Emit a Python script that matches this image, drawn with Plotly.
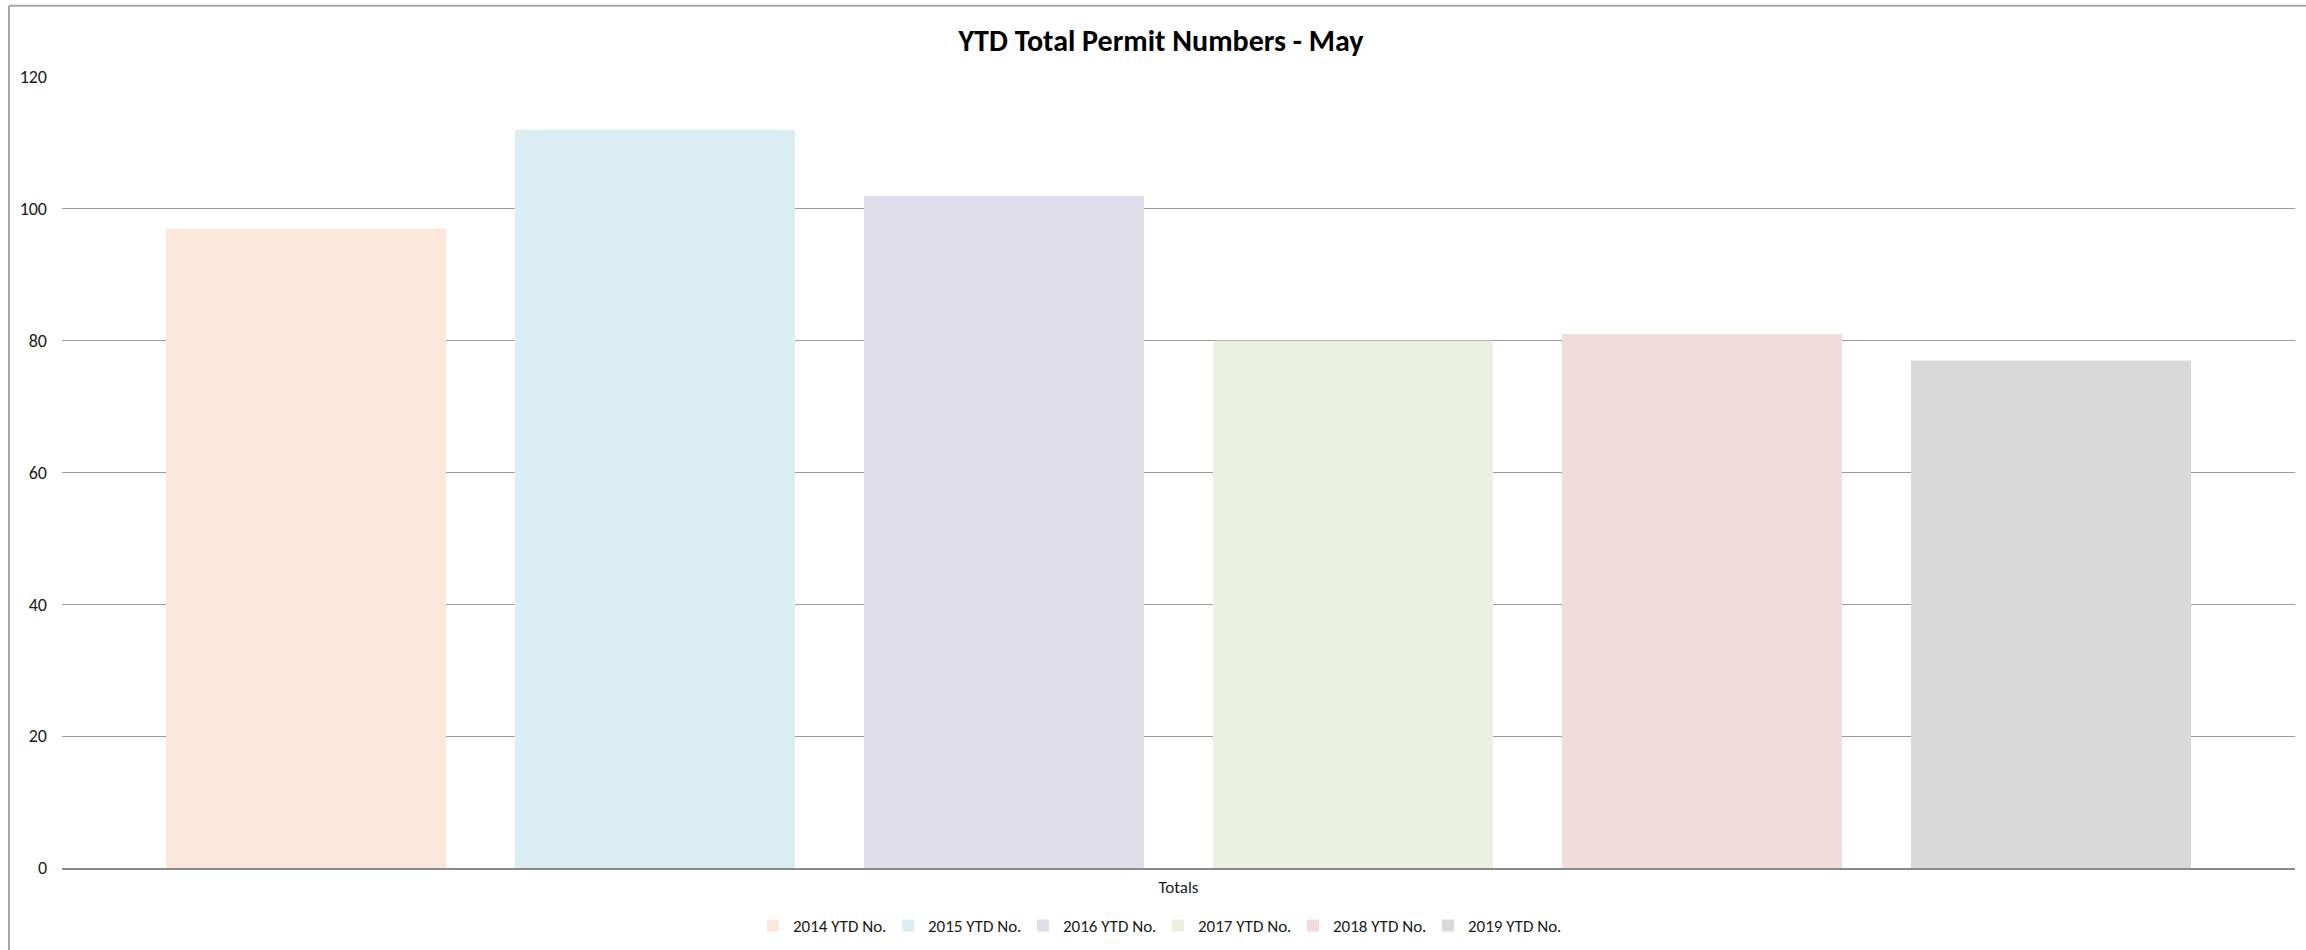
import plotly.graph_objects as go

# ---- data ----
categories = ["Totals"]
series_names = ["2014 YTD No.", "2015 YTD No.", "2016 YTD No.", "2017 YTD No.", "2018 YTD No.", "2019 YTD No."]
values_2014 = [97]
values_2015 = [112]
values_2016 = [102]
values_2017 = [80]
values_2018 = [81]
values_2019 = [77]
series_values = [values_2014, values_2015, values_2016, values_2017, values_2018, values_2019]
colors = ["#FBE7D9", "#DAEDF3", "#E1DEEC", "#EBF0DE", "#F1DBDB", "#D9D9D9"]
y_ticks = [0, 20, 40, 60, 80, 100, 120]

FONT = "Carlito, Lato, 'Open Sans', sans-serif"

W, H = 2306, 950
L, R, T, B = 62, 11, 77, 82

fig = go.Figure()
for name, vals, col in zip(series_names, series_values, colors):
    fig.add_trace(go.Bar(x=categories, y=vals, name=name,
                         marker=dict(color=col, line=dict(width=0))))

fig.update_layout(
    width=W, height=H,
    margin=dict(l=L, r=R, t=T, b=B, pad=0, autoexpand=False),
    paper_bgcolor="white", plot_bgcolor="white",
    barmode="group", bargap=0.0622, bargroupgap=0.1977,
    font=dict(family=FONT, size=17, color="#1a1a1a"),
    title=dict(text="<b>YTD Total Permit Numbers - May</b>",
               x=1161 / W, xref="container", xanchor="center",
               y=1 - 40 / H, yref="container", yanchor="middle",
               font=dict(family=FONT, size=30, color="#000000")),
    showlegend=True,
    legend=dict(orientation="h", x=1158 / W, xref="container", xanchor="center",
                y=1 - 926 / H, yref="container", yanchor="middle",
                font=dict(family=FONT, size=17, color="#1a1a1a"),
                entrywidth=90, traceorder="normal", bgcolor="rgba(0,0,0,0)"),
    xaxis=dict(showgrid=False, showline=True, linecolor="#8a8a8a", linewidth=1.5,
               ticks="", ticklabelstandoff=3, automargin=False,
               tickfont=dict(size=17, color="#1a1a1a"), fixedrange=True),
    yaxis=dict(range=[0, 120], tickvals=y_ticks, showgrid=True, gridcolor="#9c9c9c",
               gridwidth=1.3, zeroline=False, showline=False, ticks="",
               ticklabelstandoff=14, automargin=False,
               tickfont=dict(size=18, color="#1a1a1a"), fixedrange=True),
    shapes=[
        dict(type="line", xref="paper", yref="paper",
             x0=(9 - L) / (W - L - R), x1=(9 - L) / (W - L - R),
             y0=(H - B - 5.7) / (H - T - B), y1=(H - B - 960) / (H - T - B),
             line=dict(color="#a6a6a6", width=2), layer="above"),
        dict(type="line", xref="paper", yref="paper",
             x0=(9 - L) / (W - L - R), x1=(2320 - L) / (W - L - R),
             y0=(H - B - 5.7) / (H - T - B), y1=(H - B - 5.7) / (H - T - B),
             line=dict(color="#a6a6a6", width=2), layer="above"),
    ],
)

fig.write_html("out.html", config={"displayModeBar": False},
               post_script="document.body.style.margin='0';document.body.style.overflow='hidden';")
